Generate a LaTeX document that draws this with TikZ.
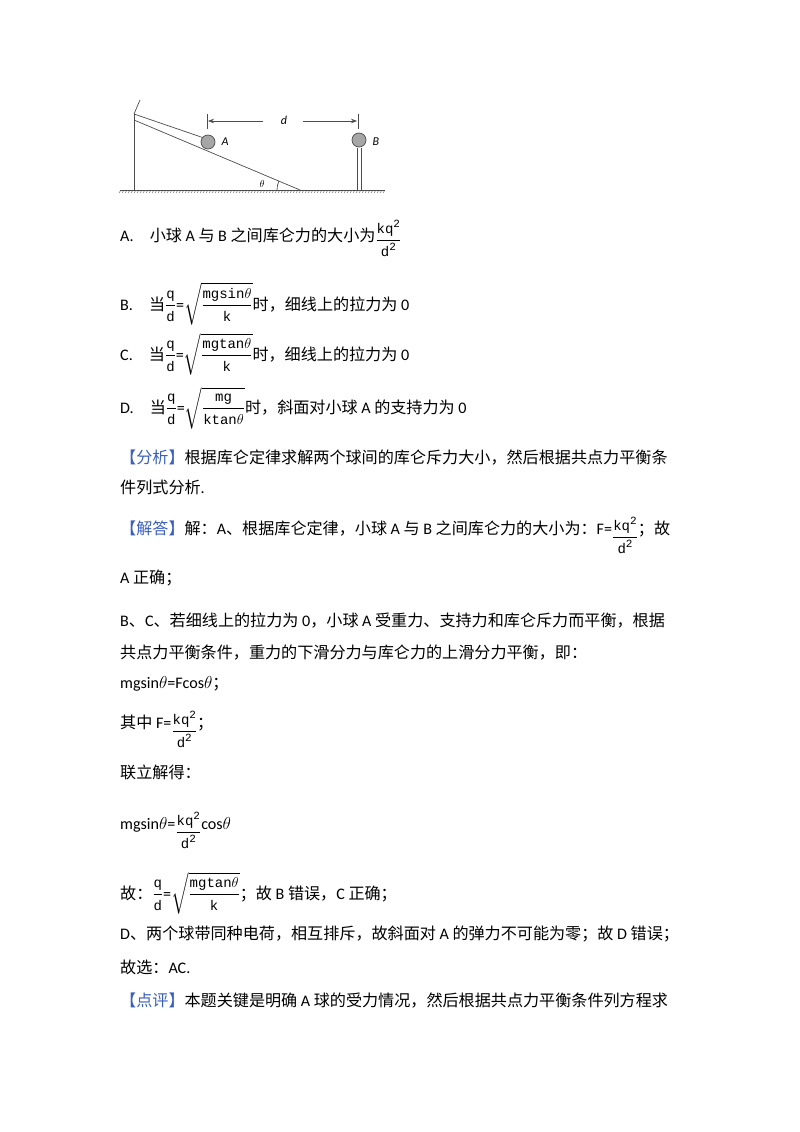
\documentclass[tikz,border=0pt]{standalone}
\usepackage{amsmath}
\usepackage{fontspec}
\setmainfont{Carlito}
\newfontfamily\cjk{Noto Sans CJK SC}
\newfontfamily\mf{Liberation Mono}
\usetikzlibrary{arrows.meta,patterns}
\newcommand\fs{\fontsize{14}{14}\mf}
\newcommand\fr[2]{$\genfrac{}{}{0.7pt}{0}{\hbox{\fs #1}}{\hbox{\fs #2}}$}
\newcommand\sq[2]{$\sqrt{\genfrac{}{}{0.7pt}{0}{\hbox{\fs #1}}{\hbox{\fs #2}}}$}
\newcommand\sqd{\raisebox{6pt}{\fontsize{11}{11}\selectfont 2}}
\newcommand\tht{$\theta$}
\definecolor{hd}{HTML}{3A5FC0}
\begin{document}
\begin{tikzpicture}[x=1pt,y=-1pt,
  ln/.style={anchor=base west,inner sep=0pt,font=\fontsize{16.1}{18}\selectfont\cjk},
  hd/.style={text=hd}]
\useasboundingbox[fill=white] (0,0) rectangle (800,1132);
% figure
\begin{scope}[line width=0.7pt,gray!60!black]
\draw (120,190) -- (385,190);
\foreach \i in {0,...,88} \draw[line width=0.4pt] (121+3*\i,190) -- ++(-2,3);
\draw (134,190) -- (134,114);
\draw (134,114) -- (140,100);
\draw (134,114) -- (204,138);
\draw (134,120) -- (300,190);
\draw (357,148) -- (357,190) (361,148) -- (361,190);
\fill[gray!70] (208,142) circle (7); \draw (208,142) circle (7);
\fill[gray!70] (359,140) circle (7); \draw (359,140) circle (7);
\draw (207,114) -- (207,129) (358,114) -- (358,129);
\draw[-{Stealth[length=6pt]}] (263,121) -- (208,121);
\draw[-{Stealth[length=6pt]}] (303,121) -- (357,121);
\draw (277,190) arc (180:203:23);
\end{scope}
\node[font=\fontsize{12}{12}\selectfont\itshape] (dA) at (225,142) {A};
\node[font=\fontsize{12}{12}\selectfont\itshape] (dB) at (376,142) {B};
\node[font=\fontsize{12}{12}\selectfont\itshape] (dd) at (284,120) {d};
\node[font=\fontsize{10}{10}\selectfont] (th) at (262,184) {$\theta$};
% text
\node[ln] (a) at (120,241) {{\rmfamily A.}\quad 小球 {\rmfamily A} 与 {\rmfamily B} 之间库仑力的大小为\raisebox{-4pt}{\fr{kq\sqd}{d\sqd}}};
\node[ln] (b) at (120,310) {{\rmfamily B.}\quad 当\fr{q}{d}{\rmfamily =}\sq{mgsin\tht}{k}时，细线上的拉力为 {\rmfamily 0}};
\node[ln] (c) at (120,360) {{\rmfamily C.}\quad 当\fr{q}{d}{\rmfamily =}\sq{mgtan\tht}{k}时，细线上的拉力为 {\rmfamily 0}};
\node[ln] (d) at (120,413) {{\rmfamily D.}\quad 当\fr{q}{d}{\rmfamily =}\sq{mg}{ktan\tht}时，斜面对小球 {\rmfamily A} 的支持力为 {\rmfamily 0}};
\node[ln] (e) at (120,463) {{\color{hd}【分析】}根据库仑定律求解两个球间的库仑斥力大小，然后根据共点力平衡条};
\node[ln] (f) at (120,493) {件列式分析{\rmfamily .}};
\node[ln] (g) at (120,534) {{\color{hd}【解答】}解：{\rmfamily A}、根据库仑定律，小球 {\rmfamily A} 与 {\rmfamily B} 之间库仑力的大小为：{\rmfamily F=}\raisebox{-8pt}{\fr{kq\sqd}{d\sqd}}；故};
\node[ln] (h) at (120,583) {{\rmfamily A} 正确；};
\node[ln] (i) at (120,626) {{\rmfamily B}、{\rmfamily C}、若细线上的拉力为 {\rmfamily 0}，小球 {\rmfamily A} 受重力、支持力和库仑斥力而平衡，根据};
\node[ln] (j) at (120,658) {共点力平衡条件，重力的下滑分力与库仑力的上滑分力平衡，即：};
\node[ln] (k) at (120,688) {{\rmfamily mgsin$\theta$=Fcos$\theta$}；};
\node[ln] (l) at (120,728) {其中 {\rmfamily F=}\raisebox{-8pt}{\fr{kq\sqd}{d\sqd}}；};
\node[ln] (m) at (120,778) {联立解得：};
\node[ln] (n) at (120,829) {{\rmfamily mgsin$\theta$=}\raisebox{-8pt}{\fr{kq\sqd}{d\sqd}}{\rmfamily cos$\theta$}};
\node[ln] (o) at (120,899) {故：\fr{q}{d}{\rmfamily =}\sq{mgtan\tht}{k}；故 {\rmfamily B} 错误，{\rmfamily C} 正确；};
\node[ln] (p) at (120,939) {{\rmfamily D}、两个球带同种电荷，相互排斥，故斜面对 {\rmfamily A} 的弹力不可能为零；故 {\rmfamily D} 错误；};
\node[ln] (q) at (120,973) {故选：{\rmfamily AC.}};
\node[ln] (r) at (120,1006) {{\color{hd}【点评】}本题关键是明确 {\rmfamily A} 球的受力情况，然后根据共点力平衡条件列方程求};
\end{tikzpicture}
\end{document}
